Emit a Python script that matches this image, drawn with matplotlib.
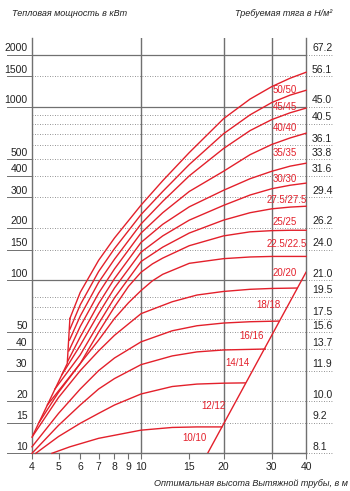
import numpy as np
import matplotlib.pyplot as plt

#-------------------- DATA ------------------------#
# curves "height/diameter" (x in m, y in kW)
x_50 = [5.5, 6, 7, 8, 10, 12, 15, 20, 25, 30, 35, 40]
y_50 = [60, 85, 130, 175, 271, 375, 545, 855, 1110, 1310, 1465, 1585]
x_45 = [5.5, 6, 7, 8, 10, 12, 15, 20, 25, 30, 35, 40]
y_45 = [52, 72, 112, 152, 239, 325, 465, 700, 900, 1060, 1170, 1247]
x_40 = [5.48, 6, 7, 8, 10, 12, 15, 20, 25, 30, 35, 40]
y_40 = [45, 62, 97, 132, 211, 285, 400, 575, 730, 845, 925, 984]
x_35 = [5.45, 6, 7, 8, 10, 12, 15, 20, 25, 30, 35, 40]
y_35 = [39, 54, 84, 116, 187, 245, 325, 425, 530, 607, 662, 705]
x_30 = [5.4, 6, 7, 8, 10, 12, 15, 20, 25, 30, 35, 40]
y_30 = [34, 47, 73, 102, 165, 210, 265, 330, 385, 425, 455, 473]
x_275 = [5.15, 6, 7, 8, 10, 12, 15, 20, 25, 30, 35, 40]
y_275 = [28.5, 42, 64, 90, 145, 180, 222, 270, 310, 337, 353, 363]
x_25 = [4.85, 6, 7, 8, 10, 12, 15, 20, 25, 30, 35, 40]
y_25 = [23.5, 37, 56, 79, 128, 155, 187, 222, 245, 258, 264, 267]
x_225 = [4.55, 6, 7, 8, 9, 10, 11, 12, 15, 20, 25, 30, 35, 40]
y_225 = [19, 33, 50, 70, 92, 111, 124, 134, 158, 180, 190, 193, 194, 194]
x_20 = [4.25, 5, 6, 7, 8, 9, 10, 11, 12, 15, 20, 25, 30, 40]
y_20 = [15.1, 22.5, 33, 45, 60, 74, 87, 99, 108, 125, 133, 136, 137, 137]
x_18 = [4.0, 5, 6, 7, 8, 10, 13, 16, 20, 25, 30, 37.1]
y_18 = [12.4, 21, 30, 39, 48, 64, 75, 82, 86, 88.5, 89.5, 90]
x_16 = [4.0, 5, 6, 7, 8, 10, 13, 16, 20, 25, 31.8]
y_16 = [10.9, 17, 23.5, 30, 35.5, 44, 51, 54.5, 56.5, 57.5, 58]
x_14 = [4.0, 5, 6, 7, 8, 10, 13, 16, 20, 28.4]
y_14 = [10, 14.5, 19, 23.5, 27, 32.5, 36.5, 38.5, 39.5, 40]
x_12 = [4.13, 5, 6, 7, 8, 10, 13, 16, 20, 24.0]
y_12 = [10, 12.5, 14.9, 17, 19, 22, 24.3, 25.1, 25.4, 25.5]
x_10 = [4.73, 5.5, 7, 10, 13, 16, 19.7]
y_10 = [10, 10.9, 12.2, 13.6, 14.1, 14.2, 14.2]

# left boundary of the upper curves and the limit line
x_edge = [4.0, 5.38, 5.5]
y_edge = [12.4, 33, 60]
x_limit = [17.5, 40]
y_limit = [10, 111]

curve_names = ['50/50', '45/45', '40/40', '35/35', '30/30', '27.5/27.5', '25/25',
               '22.5/22.5', '20/20', '18/18', '16/16', '14/14', '12/12', '10/10']
label_x = [33.5, 33.5, 33.5, 33.5, 33.5, 34.1, 33.5, 34.1, 33.5, 29.1, 25.4, 22.4, 18.3, 15.6]
label_y = [1249, 995, 754, 541, 383, 289, 216, 161, 110, 71.7, 47.5, 33.2, 18.7, 12.25]

x_ticks = [4, 5, 6, 7, 8, 9, 10, 15, 20, 30, 40]
left_ticks = [10, 15, 20, 30, 40, 50, 100, 150, 200, 300, 400, 500, 1000, 1500, 2000]
right_pos = [2000, 1500, 1000, 800, 600, 500, 400, 300, 200, 150, 100, 80, 60, 50, 40, 30, 20, 15, 10]
right_labels = ['67.2', '56.1', '45.0', '40.5', '36.1', '33.8', '31.6', '29.4', '26.2', '24.0',
                '21.0', '19.5', '17.5', '15.6', '13.7', '11.9', '10.0', '9.2', '8.1']
extra_grid = [60, 70, 80, 600, 700, 800, 900]
solid_grid = [100, 1000, 2000]

#-------------------- PLOT ------------------------#
RED = '#e3202b'
GRID = '#707070'
TXT = '#222222'
FONT = ['Liberation Sans', 'DejaVu Sans']

fig = plt.figure(figsize=(3.5, 4.91), dpi=100)
ax = fig.add_axes([0.0914, 0.0768, 0.7829, 0.8458])
ax.set_xscale('log')
ax.set_yscale('log')
ax.set_xlim(4, 40)
ax.set_ylim(10, 2500)

# grid
ytr = ax.get_yaxis_transform()
for v in sorted(set(left_ticks + right_pos + extra_grid)):
    if v == 10:
        continue
    if v in solid_grid:
        ax.axhline(v, color=GRID, lw=0.9, zorder=1)
    else:
        ax.axhline(v, color=GRID, lw=0.6, ls=(0, (1, 2)), zorder=1)
for v in [10, 20, 30]:
    ax.axvline(v, color=GRID, lw=1.0, zorder=1)

# short marks under the labels on both sides
for v in left_ticks:
    ax.plot([-0.091, 0], [v, v], transform=ytr, color=GRID, lw=0.7, clip_on=False)
    ax.text(-0.016, v * 1.02, str(v), transform=ytr, ha='right', va='bottom',
            fontsize=7.5, family=FONT, color=TXT)
for v, s in zip(right_pos, right_labels):
    ax.plot([1.0, 1.095], [v, v], transform=ytr, color=GRID, lw=0.6, ls=(0, (1, 2)), clip_on=False)
    ax.text(1.022, v * 1.02, s, transform=ytr, ha='left', va='bottom',
            fontsize=7.5, family=FONT, color=TXT)

# curves
curves = [(x_50, y_50), (x_45, y_45), (x_40, y_40), (x_35, y_35), (x_30, y_30),
          (x_275, y_275), (x_25, y_25), (x_225, y_225), (x_20, y_20), (x_18, y_18),
          (x_16, y_16), (x_14, y_14), (x_12, y_12), (x_10, y_10)]
for (cx, cy) in curves:
    ax.plot(cx, cy, color=RED, lw=1.0, zorder=3, clip_on=False)
ax.plot(x_edge, y_edge, color=RED, lw=1.0, zorder=3)
ax.plot(x_limit, y_limit, color=RED, lw=1.0, zorder=3)

for name, lx, ly in zip(curve_names, label_x, label_y):
    ax.text(lx, ly, name, color=RED, fontsize=7, family=FONT, ha='center', va='center',
            zorder=4)

# axes look
for side in ['left', 'right', 'bottom']:
    ax.spines[side].set_color(GRID)
    ax.spines[side].set_linewidth(1.0)
ax.spines['top'].set_visible(False)
ax.set_yticks([])
ax.yaxis.set_minor_locator(plt.NullLocator())
ax.xaxis.set_minor_locator(plt.NullLocator())
ax.set_xticks(x_ticks)
ax.set_xticklabels([str(v) for v in x_ticks], fontsize=7.5, family=FONT, color=TXT)
ax.tick_params(axis='x', length=4, color=GRID, width=0.8, pad=2)

fig.text(12 / 350, 1 - 14 / 491, 'Тепловая мощность в кВт', fontsize=6.5, style='italic',
         family=FONT, color=TXT, ha='left', va='center')
fig.text(332 / 350, 1 - 14 / 491, 'Требуемая тяга в Н/м²', fontsize=6.5, style='italic',
         family=FONT, color=TXT, ha='right', va='center')
fig.text(348 / 350, 1 - 483 / 491, 'Оптимальная высота Вытяжной трубы, в м', fontsize=6.5,
         style='italic', family=FONT, color=TXT, ha='right', va='center')

fig.savefig('out.png', dpi=100)
